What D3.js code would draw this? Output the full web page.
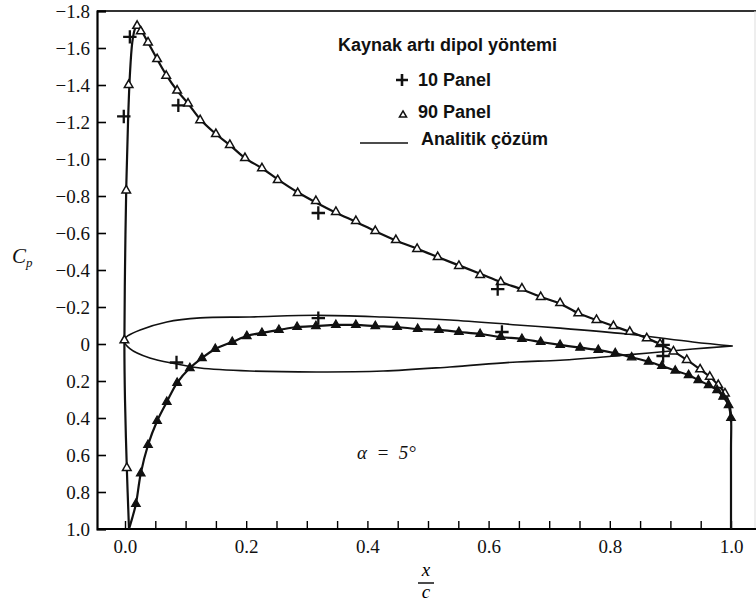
<!DOCTYPE html>
<html>
<head>
<meta charset="utf-8">
<script src="https://cdn.jsdelivr.net/npm/d3@7/dist/d3.min.js"></script>
<style>
  body { margin: 0; background: #fff; }
  svg { display: block; }
</style>
</head>
<body>
<svg id="chart" width="756" height="608"></svg>
<script>
// tick values
var yTicks = [-1.8, -1.6, -1.4, -1.2, -1.0, -0.8, -0.6, -0.4, -0.2, 0, 0.2, 0.4, 0.6, 0.8, 1.0];
var xTicks = d3.range(21).map(function (i) { return +(i * 0.05).toFixed(2); });
var xLabelTicks = [0, 0.2, 0.4, 0.6, 0.8, 1.0];

// analytic solution, upper surface (x/c, Cp)
var upperLineX = [0.0066, 0.003, 0.0, -0.001, 0.0, 0.002, 0.005, 0.008, 0.012, 0.016, 0.02, 0.026, 0.038, 0.053, 0.068, 0.086, 0.104, 0.124, 0.15, 0.173, 0.198, 0.226, 0.252, 0.285, 0.315, 0.348, 0.381, 0.413, 0.447, 0.482, 0.516, 0.551, 0.586, 0.62, 0.655, 0.686, 0.718, 0.748, 0.778, 0.806, 0.833, 0.861, 0.883, 0.905, 0.927, 0.949, 0.965, 0.979, 0.99, 0.997, 1.0, 1.0, 1.0];
var upperLineCp = [1.0, 0.67, 0.3, 0.0, -0.4, -0.83, -1.2, -1.45, -1.63, -1.70, -1.73, -1.70, -1.63, -1.54, -1.455, -1.37, -1.30, -1.215, -1.135, -1.075, -1.005, -0.95, -0.89, -0.82, -0.765, -0.71, -0.66, -0.61, -0.56, -0.515, -0.47, -0.425, -0.38, -0.335, -0.295, -0.255, -0.218, -0.166, -0.13, -0.097, -0.066, -0.031, 0.0, 0.04, 0.086, 0.137, 0.177, 0.222, 0.267, 0.32, 0.39, 0.57, 1.0];

// analytic solution, lower surface
var lowerLineX = [0.0066, 0.012, 0.018, 0.026, 0.038, 0.053, 0.069, 0.086, 0.107, 0.127, 0.149, 0.177, 0.201, 0.226, 0.254, 0.284, 0.315, 0.348, 0.381, 0.413, 0.449, 0.483, 0.518, 0.551, 0.586, 0.62, 0.655, 0.686, 0.718, 0.751, 0.781, 0.809, 0.836, 0.864, 0.886, 0.908, 0.93, 0.946, 0.963, 0.977, 0.987, 0.996, 1.0];
var lowerLineCp = [1.0, 0.94, 0.865, 0.70, 0.546, 0.416, 0.313, 0.21, 0.13, 0.076, 0.027, -0.011, -0.043, -0.06, -0.076, -0.092, -0.097, -0.103, -0.103, -0.097, -0.092, -0.081, -0.076, -0.065, -0.054, -0.038, -0.027, -0.011, 0.005, 0.02, 0.032, 0.05, 0.072, 0.096, 0.119, 0.144, 0.168, 0.195, 0.222, 0.249, 0.285, 0.33, 0.42];

// 90 panel, upper surface
var upper90X = [0.003, -0.001, 0.002, 0.006, 0.02, 0.026, 0.038, 0.053, 0.068, 0.086, 0.104, 0.124, 0.15, 0.173, 0.198, 0.226, 0.252, 0.285, 0.315, 0.348, 0.381, 0.413, 0.447, 0.482, 0.516, 0.551, 0.586, 0.62, 0.655, 0.686, 0.718, 0.748, 0.778, 0.806, 0.833, 0.861, 0.883, 0.905, 0.927, 0.949, 0.965, 0.979, 0.99];
var upper90Cp = [0.67, -0.02, -0.83, -1.40, -1.72, -1.69, -1.63, -1.54, -1.45, -1.37, -1.30, -1.21, -1.135, -1.076, -1.005, -0.95, -0.886, -0.816, -0.773, -0.714, -0.665, -0.611, -0.562, -0.514, -0.47, -0.422, -0.373, -0.335, -0.30, -0.254, -0.221, -0.166, -0.13, -0.097, -0.066, -0.031, 0.0, 0.04, 0.086, 0.137, 0.177, 0.222, 0.267];

// 90 panel, lower surface
var lower90X = [0.018, 0.026, 0.038, 0.053, 0.069, 0.086, 0.107, 0.127, 0.149, 0.177, 0.201, 0.226, 0.254, 0.284, 0.315, 0.348, 0.381, 0.413, 0.449, 0.483, 0.518, 0.551, 0.586, 0.62, 0.655, 0.686, 0.718, 0.751, 0.781, 0.809, 0.836, 0.864, 0.886, 0.908, 0.93, 0.946, 0.963, 0.977, 0.987, 0.996, 1.0];
var lower90Cp = [0.865, 0.70, 0.546, 0.416, 0.313, 0.21, 0.13, 0.076, 0.027, -0.011, -0.043, -0.06, -0.076, -0.092, -0.097, -0.103, -0.103, -0.097, -0.092, -0.081, -0.076, -0.065, -0.054, -0.038, -0.027, -0.011, 0.005, 0.02, 0.032, 0.05, 0.072, 0.096, 0.119, 0.144, 0.168, 0.195, 0.222, 0.249, 0.285, 0.33, 0.40];

// 10 panel
var panel10X = [-0.002, 0.008, 0.088, 0.319, 0.615, 0.888, 0.085, 0.319, 0.622, 0.888];
var panel10Cp = [-1.23, -1.66, -1.29, -0.708, -0.297, 0.005, 0.10, -0.14, -0.065, 0.065];

// airfoil outline drawn in the plot (TE -> upper -> LE -> lower -> TE)
var airfoilX = [1.003, 0.937, 0.828, 0.718, 0.647, 0.536, 0.426, 0.317, 0.206, 0.124, 0.069, 0.025, 0.005, -0.002, 0.008, 0.041, 0.086, 0.124, 0.206, 0.317, 0.426, 0.536, 0.647, 0.718, 0.828, 0.937, 1.003];
var airfoilCp = [0.011, -0.011, -0.054, -0.086, -0.103, -0.130, -0.146, -0.155, -0.146, -0.141, -0.119, -0.076, -0.045, -0.022, 0.025, 0.076, 0.108, 0.130, 0.146, 0.151, 0.146, 0.124, 0.097, 0.088, 0.059, 0.027, 0.011];

var svg = d3.select('#chart');

var x = d3.scaleLinear().domain([-0.0462, 1.0396]).range([97, 755]);
var y = d3.scaleLinear().domain([-1.8, 1.0]).range([11, 529]);

var serif = '"Liberation Serif", "DejaVu Serif", serif';
var sans = '"Liberation Sans", Arial, sans-serif';

function zip(xs, ys) {
	return xs.map(function (v, i) { return [v, ys[i]]; });
}

// frame
svg.append('line').attr('x1', 97).attr('x2', 756).attr('y1', 11).attr('y2', 11)
	.attr('stroke', '#333').attr('stroke-width', 2);
svg.append('line').attr('x1', 755).attr('x2', 755).attr('y1', 11).attr('y2', 529)
	.attr('stroke', '#ddd').attr('stroke-width', 1);

// y axis, ticks pointing inward
var yAxis = d3.axisLeft(y).tickValues(yTicks).tickSize(-9).tickPadding(7)
	.tickFormat(function (d) {
		if (d === 0) return '0';
		return (d < 0 ? '\u2212' : '') + Math.abs(d).toFixed(1);
	});
var gy = svg.append('g').attr('transform', 'translate(97,0)').call(yAxis);
gy.select('.domain').attr('stroke-width', 2.2);
gy.selectAll('.tick line').attr('stroke-width', 1.6);
gy.selectAll('text').attr('font-family', serif).attr('font-size', 19).attr('fill', '#111');

// x axis, minor ticks every 0.05
var xAxis = d3.axisBottom(x).tickValues(xTicks).tickSize(-8).tickPadding(11)
	.tickFormat(function (d) {
		return xLabelTicks.indexOf(d) >= 0 ? d.toFixed(1) : '';
	});
var gx = svg.append('g').attr('transform', 'translate(0,529)').call(xAxis);
gx.select('.domain').attr('d', 'M97,0H756').attr('stroke-width', 2.2);
gx.selectAll('.tick line').attr('stroke-width', 1.4);
gx.selectAll('text').attr('font-family', serif).attr('font-size', 19).attr('fill', '#111');

// axis titles
var cp = svg.append('text').attr('x', 12).attr('y', 263)
	.attr('font-family', serif).attr('font-style', 'italic').attr('font-size', 21).attr('fill', '#111');
cp.append('tspan').text('C');
cp.append('tspan').attr('font-size', 13).attr('dy', 4).text('p');

svg.append('text').attr('x', 426).attr('y', 576).attr('text-anchor', 'middle')
	.attr('font-family', serif).attr('font-style', 'italic').attr('font-size', 19).text('x');
svg.append('line').attr('x1', 418).attr('x2', 434).attr('y1', 583).attr('y2', 583)
	.attr('stroke', '#111').attr('stroke-width', 1.5);
svg.append('text').attr('x', 426).attr('y', 598).attr('text-anchor', 'middle')
	.attr('font-family', serif).attr('font-style', 'italic').attr('font-size', 19).text('c');

var line = d3.line()
	.x(function (d) { return x(d[0]); })
	.y(function (d) { return y(d[1]); })
	.curve(d3.curveCatmullRom.alpha(0.5));

// airfoil outline
svg.append('path').attr('d', line(zip(airfoilX, airfoilCp)))
	.attr('fill', 'none').attr('stroke', '#111').attr('stroke-width', 1.6);

// analytic solution
svg.append('path').attr('d', line(zip(upperLineX, upperLineCp)))
	.attr('fill', 'none').attr('stroke', '#111').attr('stroke-width', 2.2);
svg.append('path').attr('d', line(zip(lowerLineX, lowerLineCp)))
	.attr('fill', 'none').attr('stroke', '#111').attr('stroke-width', 2.2);

// 90 panel markers
var tri = d3.symbol().type(d3.symbolTriangle).size(32);
svg.append('g').selectAll('path').data(zip(upper90X, upper90Cp)).join('path')
	.attr('d', tri)
	.attr('transform', function (d) { return 'translate(' + x(d[0]) + ',' + y(d[1]) + ')'; })
	.attr('fill', '#fff').attr('stroke', '#111').attr('stroke-width', 1.5);
svg.append('g').selectAll('path').data(zip(lower90X, lower90Cp)).join('path')
	.attr('d', tri)
	.attr('transform', function (d) { return 'translate(' + x(d[0]) + ',' + y(d[1]) + ')'; })
	.attr('fill', '#111').attr('stroke', '#111').attr('stroke-width', 1.2);

// 10 panel markers
var plus = {
	draw: function (context, size) {
		var r = Math.sqrt(size) / 2;
		context.moveTo(-r, 0); context.lineTo(r, 0);
		context.moveTo(0, -r); context.lineTo(0, r);
	}
};
var plusSym = d3.symbol().type(plus).size(180);
svg.append('g').selectAll('path').data(zip(panel10X, panel10Cp)).join('path')
	.attr('d', plusSym)
	.attr('transform', function (d) { return 'translate(' + x(d[0]) + ',' + y(d[1]) + ')'; })
	.attr('fill', 'none').attr('stroke', '#111').attr('stroke-width', 2.3);

// legend
var leg = svg.append('g').attr('font-family', sans).attr('font-weight', 'bold')
	.attr('font-size', 18).attr('fill', '#111');
leg.append('text').attr('x', 338).attr('y', 51).text('Kaynak art\u0131 dipol y\u00f6ntemi');
leg.append('path').attr('d', d3.symbol().type(plus).size(144)())
	.attr('transform', 'translate(402,80)').attr('stroke', '#111').attr('stroke-width', 2.6).attr('fill', 'none');
leg.append('text').attr('x', 418).attr('y', 86).text('10 Panel');
leg.append('path').attr('d', d3.symbol().type(d3.symbolTriangle).size(22)())
	.attr('transform', 'translate(403,115)').attr('stroke', '#111').attr('stroke-width', 1.5).attr('fill', '#fff');
leg.append('text').attr('x', 418).attr('y', 118).text('90 Panel');
leg.append('line').attr('x1', 360).attr('x2', 408).attr('y1', 143).attr('y2', 143)
	.attr('stroke', '#111').attr('stroke-width', 1.6);
leg.append('text').attr('x', 421).attr('y', 145).text('Analitik \u00e7\u00f6z\u00fcm');

// angle of attack
svg.append('text').attr('x', 357).attr('y', 459).style('white-space', 'pre')
	.attr('font-family', serif).attr('font-style', 'italic').attr('font-size', 19).attr('fill', '#111')
	.text('\u03b1  =  5\u00b0');
</script>
</body>
</html>
